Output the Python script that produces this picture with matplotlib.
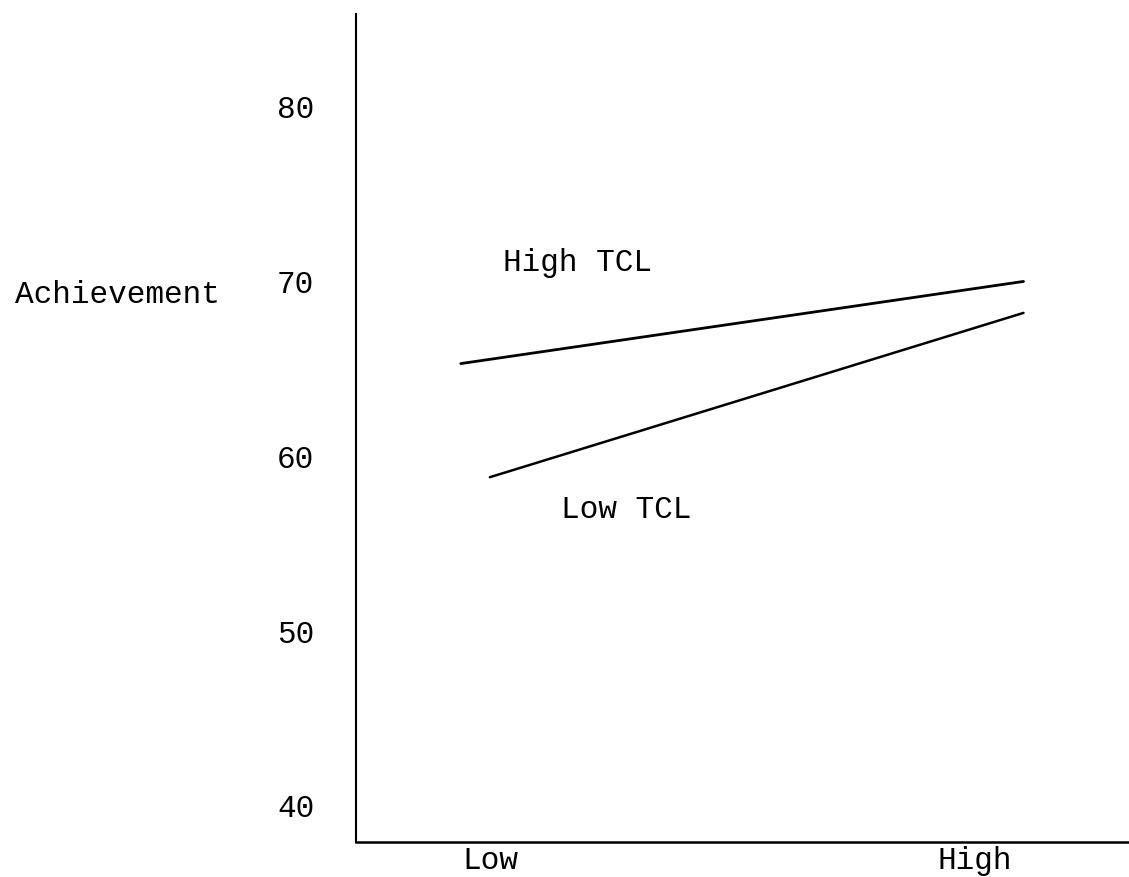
import matplotlib
matplotlib.use("Agg")
import matplotlib.pyplot as plt

# values
categories = ['Low', 'High']
cat_pos = [0, 1]
y_ticks = [40, 50, 60, 70, 80]

high_tcl_x = [-0.06, 1.10]
high_tcl_y = [65.3, 70.0]
low_tcl_x = [0.0, 1.10]
low_tcl_y = [58.8, 68.2]

plt.rcParams['font.family'] = ['Liberation Mono', 'DejaVu Sans Mono']
plt.rcParams['font.size'] = 22.4

fig = plt.figure(figsize=(11.29, 8.77), dpi=100)
ax = fig.add_axes([356 / 1129, 1 - 842 / 877, 1 - 356 / 1129, 828 / 877])

ax.plot(high_tcl_x, high_tcl_y, color='black', lw=2.0, solid_capstyle='round')
ax.plot(low_tcl_x, low_tcl_y, color='black', lw=1.8, solid_capstyle='round')

ax.text(0.027, 71.05, 'High TCL', ha='left', va='center')
ax.text(0.146, 56.9, 'Low TCL', ha='left', va='center')

ax.set_xlim(-0.276, 1.3175)
ax.set_ylim(37.93, 85.30)
ax.set_xticks(cat_pos)
ax.set_xticklabels(categories)
ax.set_yticks(y_ticks)
ax.tick_params(axis='y', length=0, pad=30)
ax.tick_params(axis='x', length=0, pad=3)

ax.set_ylabel('Achievement', rotation=0, ha='left', va='center')
ax.yaxis.set_label_coords(-0.441, (842 - 295) / 828)

ax.spines['top'].set_visible(False)
ax.spines['right'].set_visible(False)
ax.spines['left'].set_linewidth(1.5)
ax.spines['bottom'].set_linewidth(1.8)

fig.savefig('out.png', dpi=100)
